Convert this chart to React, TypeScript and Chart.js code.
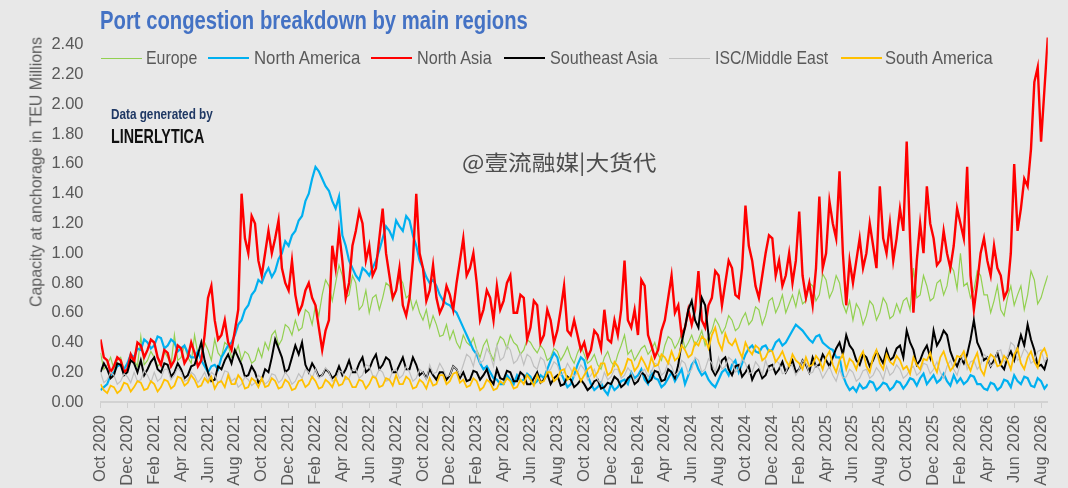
import React, { useEffect, useLayoutEffect, useRef } from "react";
import { Chart, registerables } from "chart.js";

Chart.register(...registerables);

// ---------- data (quarter-month steps starting 1 Oct 2020) ----------
const STEP_MONTHS = 0.25;

const TICK_LABELS = [
  "Oct 2020", "Dec 2020", "Feb 2021", "Apr 2021", "Jun 2021", "Aug 2021",
  "Oct 2021", "Dec 2021", "Feb 2022", "Apr 2022", "Jun 2022", "Aug 2022",
  "Oct 2022", "Dec 2022", "Feb 2023", "Apr 2023", "Jun 2023", "Aug 2023",
  "Oct 2023", "Dec 2023", "Feb 2024", "Apr 2024", "Jun 2024", "Aug 2024",
  "Oct 2024", "Dec 2024", "Feb 2025", "Apr 2025", "Jun 2025", "Aug 2025",
  "Oct 2025", "Dec 2025", "Feb 2026", "Apr 2026", "Jun 2026", "Aug 2026",
];

const Y_TICKS = [0, 0.2, 0.4, 0.6, 0.8, 1.0, 1.2, 1.4, 1.6, 1.8, 2.0, 2.2, 2.4];

const EUROPE = [
  0.33, 0.22, 0.25, 0.30, 0.22, 0.28, 0.30, 0.22, 0.25, 0.32, 0.28, 0.24, 0.44, 0.25, 0.28, 0.34,
  0.30, 0.24, 0.26, 0.34, 0.30, 0.25, 0.45, 0.28, 0.30, 0.38, 0.30, 0.26, 0.45, 0.32, 0.30, 0.40,
  0.35, 0.28, 0.42, 0.33, 0.30, 0.40, 0.38, 0.30, 0.32, 0.38, 0.28, 0.34, 0.32, 0.26, 0.28, 0.36,
  0.30, 0.40, 0.35, 0.45, 0.48, 0.38, 0.42, 0.52, 0.50, 0.45, 0.55, 0.48, 0.50, 0.62, 0.60, 0.52,
  0.65, 0.58, 0.72, 0.82, 0.78, 0.68, 0.80, 0.92, 0.85, 0.70, 0.72, 0.85, 0.80, 0.62, 0.65, 0.75,
  0.60, 0.70, 0.72, 0.62, 0.70, 0.80, 0.78, 0.68, 0.75, 0.84, 0.80, 0.70, 0.72, 0.62, 0.68, 0.60,
  0.55, 0.62, 0.50, 0.58, 0.52, 0.44, 0.45, 0.52, 0.42, 0.48, 0.40, 0.36, 0.45, 0.40, 0.38, 0.43,
  0.35, 0.30, 0.38, 0.42, 0.33, 0.28, 0.38, 0.44, 0.42, 0.36, 0.45, 0.40, 0.38, 0.32, 0.35, 0.42,
  0.40, 0.36, 0.33, 0.38, 0.35, 0.28, 0.30, 0.36, 0.34, 0.28, 0.32, 0.37, 0.30, 0.26, 0.33, 0.38,
  0.32, 0.26, 0.28, 0.32, 0.25, 0.22, 0.30, 0.34, 0.27, 0.24, 0.32, 0.38, 0.45, 0.32, 0.35, 0.28,
  0.32, 0.36, 0.38, 0.32, 0.35, 0.40, 0.32, 0.28, 0.38, 0.44, 0.42, 0.36, 0.40, 0.46, 0.36, 0.40,
  0.45, 0.38, 0.42, 0.48, 0.38, 0.44, 0.48, 0.56, 0.52, 0.46, 0.50, 0.58, 0.55, 0.48, 0.50, 0.56,
  0.60, 0.52, 0.55, 0.64, 0.62, 0.52, 0.58, 0.68, 0.70, 0.60, 0.65, 0.72, 0.60, 0.66, 0.72, 0.64,
  0.75, 0.66, 0.68, 0.80, 0.78, 0.68, 0.72, 0.86, 0.82, 0.70, 0.75, 0.85, 0.80, 0.66, 0.60, 0.68,
  0.55, 0.66, 0.62, 0.52, 0.58, 0.68, 0.65, 0.55, 0.60, 0.70, 0.66, 0.56, 0.58, 0.66, 0.60, 0.68,
  0.70, 0.62, 0.90, 0.70, 0.72, 0.85, 0.78, 0.68, 0.70, 0.80, 0.82, 0.72, 0.78, 0.92, 0.88, 0.76,
  1.00, 0.78, 0.80, 0.70, 0.75, 0.88, 0.85, 0.72, 0.72, 0.60, 0.68, 0.78, 0.62, 0.58, 0.70, 0.78,
  0.65, 0.72, 0.78, 0.62, 0.72, 0.88, 0.82, 0.66, 0.70, 0.78, 0.85,
];

const NORTH_AMERICA = [
  0.08, 0.10, 0.12, 0.18, 0.20, 0.24, 0.25, 0.22, 0.26, 0.32, 0.30, 0.36, 0.35, 0.42, 0.40, 0.36,
  0.38, 0.44, 0.43, 0.36, 0.38, 0.42, 0.40, 0.34, 0.36, 0.38, 0.33, 0.30, 0.30, 0.34, 0.28, 0.24,
  0.20, 0.24, 0.25, 0.22, 0.30, 0.34, 0.38, 0.40, 0.45, 0.52, 0.55, 0.62, 0.65, 0.72, 0.75, 0.82,
  0.80, 0.86, 0.90, 0.84, 0.88, 0.96, 1.00, 1.08, 1.05, 1.12, 1.15, 1.22, 1.25, 1.35, 1.40, 1.50,
  1.58, 1.55, 1.50, 1.45, 1.42, 1.35, 1.30, 1.38, 1.12, 1.05, 0.95, 0.90, 0.85, 0.82, 0.90, 0.88,
  0.85, 0.90, 0.95, 1.02, 1.10, 1.18, 1.15, 1.10, 1.22, 1.18, 1.15, 1.25, 1.22, 1.12, 1.05, 0.95,
  0.90, 0.84, 0.80, 0.82, 0.78, 0.72, 0.68, 0.66, 0.65, 0.62, 0.60, 0.55, 0.50, 0.45, 0.40, 0.35,
  0.32, 0.26, 0.22, 0.24, 0.20, 0.16, 0.15, 0.12, 0.12, 0.18, 0.15, 0.12, 0.18, 0.14, 0.15, 0.19,
  0.17, 0.12, 0.14, 0.18, 0.16, 0.22, 0.28, 0.33, 0.30, 0.20, 0.15, 0.10, 0.12, 0.18, 0.25, 0.30,
  0.28, 0.18, 0.12, 0.08, 0.10, 0.13, 0.08, 0.05, 0.12, 0.08, 0.10, 0.14, 0.15, 0.12, 0.20, 0.16,
  0.18, 0.22, 0.15, 0.12, 0.20, 0.16, 0.15, 0.10, 0.12, 0.16, 0.20, 0.14, 0.18, 0.22, 0.12, 0.18,
  0.25, 0.28, 0.22, 0.18, 0.20, 0.15, 0.12, 0.10, 0.15, 0.20, 0.22, 0.18, 0.25, 0.28, 0.20, 0.26,
  0.32, 0.36, 0.38, 0.34, 0.33, 0.37, 0.38, 0.34, 0.35, 0.40, 0.42, 0.38, 0.40, 0.44, 0.48, 0.52,
  0.50, 0.48, 0.45, 0.42, 0.40, 0.44, 0.45, 0.40, 0.38, 0.36, 0.35, 0.30, 0.30, 0.18, 0.12, 0.08,
  0.10, 0.07, 0.12, 0.09, 0.10, 0.14, 0.13, 0.08, 0.10, 0.13, 0.12, 0.08, 0.10, 0.14, 0.13, 0.09,
  0.12, 0.16, 0.15, 0.11, 0.16, 0.19, 0.12, 0.15, 0.18, 0.13, 0.15, 0.19, 0.14, 0.11, 0.18, 0.13,
  0.16, 0.12, 0.14, 0.18, 0.17, 0.12, 0.12, 0.09, 0.08, 0.13, 0.12, 0.08, 0.10, 0.15, 0.14, 0.10,
  0.18, 0.14, 0.12, 0.17, 0.16, 0.11, 0.10, 0.16, 0.14, 0.09, 0.12,
];

const NORTH_ASIA = [
  0.42, 0.30, 0.28, 0.20, 0.24, 0.30, 0.28, 0.20, 0.22, 0.32, 0.27, 0.40, 0.38, 0.30, 0.35, 0.42,
  0.40, 0.30, 0.25, 0.35, 0.33, 0.24, 0.28, 0.38, 0.36, 0.26, 0.30, 0.40, 0.33, 0.24, 0.28, 0.45,
  0.70, 0.78, 0.55, 0.42, 0.45, 0.55, 0.40, 0.35, 0.48, 0.62, 1.40, 1.10, 1.00, 1.25, 1.20, 0.95,
  0.85, 1.00, 1.15, 1.00, 1.10, 1.22, 0.90, 0.80, 0.75, 0.95, 0.72, 0.60, 0.65, 0.75, 0.80, 0.70,
  0.65, 0.50, 0.35, 0.48, 0.55, 1.05, 0.90, 1.15, 0.95, 0.70, 0.80, 1.05, 1.15, 1.28, 1.20, 0.95,
  1.05, 0.85, 0.90, 1.10, 1.30, 1.00, 0.85, 0.70, 0.75, 0.90, 0.65, 0.58, 0.70, 0.95, 1.40, 1.00,
  0.90, 0.68, 0.75, 0.92, 0.70, 0.60, 0.65, 0.78, 0.72, 0.62, 0.80, 0.95, 1.10, 0.85, 0.90, 1.00,
  0.80, 0.55, 0.62, 0.75, 0.70, 0.55, 0.78, 0.62, 0.68, 0.80, 0.85, 0.60, 0.60, 0.72, 0.70, 0.42,
  0.50, 0.68, 0.65, 0.40, 0.45, 0.62, 0.55, 0.40, 0.48, 0.62, 0.78, 0.48, 0.45, 0.55, 0.45, 0.35,
  0.40, 0.30, 0.35, 0.48, 0.45, 0.36, 0.62, 0.42, 0.40, 0.55, 0.45, 0.62, 0.95, 0.55, 0.50, 0.62,
  0.45, 0.82, 0.78, 0.45, 0.38, 0.30, 0.35, 0.48, 0.55, 0.70, 0.85, 0.60, 0.65, 0.45, 0.50, 0.62,
  0.52, 0.62, 0.88, 0.55, 0.50, 0.65, 0.70, 0.88, 0.85, 0.65, 0.80, 0.95, 0.90, 0.72, 0.70, 0.90,
  1.32, 1.05, 0.95, 0.78, 0.70, 0.85, 1.00, 1.12, 1.10, 0.85, 0.95, 0.78, 0.85, 1.00, 0.80, 0.95,
  1.28, 0.85, 0.70, 0.80, 0.65, 0.90, 1.38, 0.90, 1.00, 1.35, 1.20, 1.10, 1.55, 1.00, 0.65, 0.95,
  0.80, 0.95, 1.10, 0.90, 1.00, 1.20, 1.05, 0.90, 1.45, 1.10, 1.00, 1.20, 0.95, 1.10, 1.30, 1.15,
  1.75, 1.10, 0.60, 0.95, 1.20, 1.00, 1.45, 1.20, 1.10, 0.92, 0.95, 1.15, 1.00, 0.90, 1.05, 1.30,
  1.20, 1.10, 1.58, 0.85, 0.62, 0.80, 1.00, 1.10, 0.95, 0.85, 1.05, 0.90, 0.85, 0.70, 0.75, 1.00,
  1.60, 1.15, 1.30, 1.50, 1.45, 1.70, 2.15, 2.25, 1.75, 2.10, 2.45,
];

const SOUTHEAST_ASIA = [
  0.20, 0.26, 0.22, 0.16, 0.18, 0.26, 0.25, 0.18, 0.20, 0.28, 0.26, 0.20, 0.28, 0.18, 0.22, 0.27,
  0.30, 0.22, 0.20, 0.26, 0.25, 0.17, 0.20, 0.26, 0.22, 0.16, 0.18, 0.24, 0.25, 0.32, 0.40, 0.28,
  0.20, 0.14, 0.15, 0.24, 0.22, 0.28, 0.32, 0.26, 0.35, 0.30, 0.25, 0.17, 0.18, 0.24, 0.20, 0.13,
  0.15, 0.22, 0.20, 0.30, 0.42, 0.36, 0.30, 0.20, 0.22, 0.30, 0.38, 0.32, 0.40, 0.25, 0.20, 0.26,
  0.22, 0.17, 0.18, 0.22, 0.20, 0.16, 0.18, 0.24, 0.18, 0.22, 0.28, 0.20, 0.20, 0.26, 0.30, 0.20,
  0.22, 0.28, 0.32, 0.22, 0.25, 0.30, 0.28, 0.20, 0.20, 0.25, 0.30, 0.22, 0.22, 0.30, 0.25, 0.18,
  0.20, 0.16, 0.22, 0.18, 0.15, 0.20, 0.20, 0.15, 0.18, 0.24, 0.22, 0.16, 0.20, 0.14, 0.15, 0.21,
  0.20, 0.15, 0.18, 0.22, 0.15, 0.12, 0.22, 0.16, 0.15, 0.21, 0.20, 0.14, 0.14, 0.20, 0.18, 0.12,
  0.12, 0.16, 0.20, 0.13, 0.15, 0.19, 0.12, 0.16, 0.18, 0.11, 0.12, 0.17, 0.15, 0.10, 0.12, 0.15,
  0.12, 0.08, 0.10, 0.14, 0.15, 0.09, 0.10, 0.13, 0.12, 0.17, 0.15, 0.10, 0.12, 0.16, 0.18, 0.12,
  0.14, 0.20, 0.18, 0.13, 0.15, 0.21, 0.20, 0.14, 0.15, 0.22, 0.20, 0.16, 0.25, 0.40, 0.50, 0.62,
  0.68, 0.55, 0.50, 0.70, 0.65, 0.45, 0.22, 0.18, 0.22, 0.28, 0.30, 0.22, 0.18, 0.24, 0.25, 0.17,
  0.20, 0.24, 0.15, 0.20, 0.22, 0.16, 0.18, 0.24, 0.25, 0.19, 0.22, 0.27, 0.20, 0.24, 0.28, 0.20,
  0.22, 0.28, 0.25, 0.20, 0.30, 0.24, 0.25, 0.32, 0.28, 0.24, 0.30, 0.36, 0.40, 0.32, 0.45, 0.38,
  0.35, 0.28, 0.25, 0.32, 0.30, 0.24, 0.28, 0.34, 0.30, 0.26, 0.35, 0.28, 0.30, 0.36, 0.38, 0.30,
  0.48, 0.40, 0.35, 0.25, 0.28, 0.34, 0.38, 0.30, 0.48, 0.38, 0.42, 0.48, 0.45, 0.34, 0.28, 0.24,
  0.30, 0.26, 0.32, 0.42, 0.55, 0.40, 0.35, 0.28, 0.30, 0.24, 0.28, 0.33, 0.25, 0.22, 0.30, 0.34,
  0.28, 0.36, 0.45, 0.38, 0.52, 0.42, 0.35, 0.24, 0.25, 0.22, 0.30,
];

const ISC_MIDDLE_EAST = [
  0.20, 0.13, 0.15, 0.20, 0.18, 0.12, 0.14, 0.19, 0.17, 0.13, 0.20, 0.14, 0.15, 0.21, 0.18, 0.13,
  0.20, 0.14, 0.16, 0.22, 0.22, 0.15, 0.18, 0.23, 0.20, 0.14, 0.15, 0.20, 0.18, 0.13, 0.16, 0.20,
  0.14, 0.20, 0.18, 0.13, 0.15, 0.21, 0.20, 0.14, 0.16, 0.10, 0.12, 0.17, 0.15, 0.11, 0.13, 0.18,
  0.16, 0.12, 0.14, 0.19, 0.18, 0.13, 0.15, 0.20, 0.17, 0.12, 0.14, 0.19, 0.16, 0.22, 0.20, 0.16,
  0.22, 0.16, 0.18, 0.23, 0.20, 0.14, 0.15, 0.21, 0.20, 0.15, 0.16, 0.22, 0.22, 0.16, 0.18, 0.25,
  0.24, 0.18, 0.17, 0.22, 0.20, 0.14, 0.15, 0.21, 0.22, 0.16, 0.18, 0.24, 0.20, 0.14, 0.16, 0.22,
  0.20, 0.15, 0.25, 0.19, 0.20, 0.26, 0.22, 0.17, 0.18, 0.24, 0.22, 0.18, 0.25, 0.32, 0.30, 0.24,
  0.35, 0.26, 0.28, 0.36, 0.32, 0.24, 0.38, 0.28, 0.30, 0.38, 0.35, 0.26, 0.28, 0.33, 0.25, 0.32,
  0.30, 0.24, 0.22, 0.30, 0.28, 0.20, 0.22, 0.27, 0.25, 0.18, 0.20, 0.26, 0.22, 0.17, 0.20, 0.25,
  0.22, 0.15, 0.18, 0.22, 0.15, 0.12, 0.20, 0.15, 0.17, 0.22, 0.22, 0.16, 0.18, 0.23, 0.20, 0.14,
  0.16, 0.20, 0.22, 0.17, 0.20, 0.26, 0.25, 0.18, 0.20, 0.27, 0.24, 0.18, 0.20, 0.28, 0.26, 0.19,
  0.22, 0.30, 0.28, 0.20, 0.22, 0.29, 0.26, 0.20, 0.30, 0.22, 0.24, 0.30, 0.28, 0.20, 0.22, 0.29,
  0.26, 0.19, 0.20, 0.27, 0.24, 0.18, 0.28, 0.21, 0.22, 0.28, 0.26, 0.19, 0.20, 0.26, 0.24, 0.18,
  0.22, 0.28, 0.26, 0.19, 0.20, 0.25, 0.22, 0.16, 0.20, 0.24, 0.18, 0.14, 0.22, 0.16, 0.17, 0.22,
  0.20, 0.14, 0.16, 0.21, 0.22, 0.16, 0.18, 0.23, 0.20, 0.15, 0.24, 0.18, 0.20, 0.25, 0.22, 0.16,
  0.18, 0.22, 0.24, 0.18, 0.20, 0.26, 0.25, 0.19, 0.22, 0.27, 0.20, 0.16, 0.24, 0.28, 0.22, 0.18,
  0.26, 0.32, 0.22, 0.27, 0.28, 0.22, 0.25, 0.32, 0.30, 0.24, 0.26, 0.34, 0.35, 0.27, 0.30, 0.40,
  0.38, 0.28, 0.30, 0.36, 0.33, 0.26, 0.28, 0.34, 0.35, 0.27, 0.30,
];

const SOUTH_AMERICA = [
  0.12, 0.08, 0.06, 0.11, 0.10, 0.06, 0.08, 0.13, 0.12, 0.07, 0.10, 0.14, 0.13, 0.08, 0.09, 0.14,
  0.12, 0.07, 0.10, 0.15, 0.14, 0.09, 0.11, 0.17, 0.16, 0.11, 0.13, 0.18, 0.15, 0.10, 0.11, 0.16,
  0.13, 0.17, 0.09, 0.13, 0.14, 0.10, 0.18, 0.12, 0.12, 0.18, 0.15, 0.09, 0.10, 0.16, 0.14, 0.10,
  0.16, 0.10, 0.11, 0.16, 0.14, 0.09, 0.10, 0.15, 0.13, 0.08, 0.09, 0.14, 0.15, 0.10, 0.12, 0.17,
  0.14, 0.09, 0.10, 0.15, 0.13, 0.10, 0.16, 0.11, 0.12, 0.17, 0.15, 0.10, 0.10, 0.15, 0.14, 0.09,
  0.12, 0.17, 0.16, 0.10, 0.11, 0.16, 0.15, 0.11, 0.18, 0.12, 0.12, 0.17, 0.15, 0.09, 0.10, 0.15,
  0.13, 0.09, 0.16, 0.11, 0.12, 0.18, 0.18, 0.12, 0.14, 0.19, 0.20, 0.13, 0.15, 0.10, 0.11, 0.16,
  0.14, 0.08, 0.10, 0.15, 0.13, 0.08, 0.09, 0.14, 0.12, 0.16, 0.14, 0.09, 0.10, 0.15, 0.12, 0.18,
  0.15, 0.11, 0.18, 0.13, 0.14, 0.20, 0.20, 0.14, 0.16, 0.21, 0.22, 0.15, 0.17, 0.23, 0.20, 0.14,
  0.18, 0.22, 0.24, 0.17, 0.20, 0.26, 0.26, 0.18, 0.20, 0.27, 0.24, 0.18, 0.22, 0.29, 0.28, 0.21,
  0.24, 0.30, 0.26, 0.21, 0.30, 0.24, 0.25, 0.32, 0.30, 0.26, 0.34, 0.28, 0.30, 0.38, 0.35, 0.30,
  0.32, 0.40, 0.38, 0.44, 0.42, 0.36, 0.45, 0.50, 0.40, 0.35, 0.46, 0.40, 0.38, 0.42, 0.35, 0.30,
  0.40, 0.35, 0.32, 0.38, 0.36, 0.28, 0.30, 0.35, 0.34, 0.27, 0.30, 0.34, 0.28, 0.24, 0.32, 0.28,
  0.26, 0.22, 0.30, 0.24, 0.25, 0.31, 0.28, 0.22, 0.30, 0.34, 0.25, 0.20, 0.28, 0.32, 0.22, 0.29,
  0.27, 0.22, 0.30, 0.34, 0.24, 0.20, 0.30, 0.35, 0.26, 0.22, 0.32, 0.27, 0.25, 0.31, 0.28, 0.22,
  0.24, 0.19, 0.30, 0.25, 0.22, 0.29, 0.28, 0.33, 0.25, 0.20, 0.30, 0.34, 0.27, 0.21, 0.24, 0.31,
  0.30, 0.34, 0.26, 0.21, 0.28, 0.33, 0.22, 0.18, 0.27, 0.32, 0.30, 0.24, 0.25, 0.31, 0.28, 0.22,
  0.32, 0.36, 0.26, 0.22, 0.30, 0.34, 0.27, 0.23, 0.33, 0.36, 0.30,
];

const SERIES_NAMES = ["Europe", "North America", "North Asia", "Southeast Asia", "ISC/Middle East", "South America"];
const SERIES_VALUES = [EUROPE, NORTH_AMERICA, NORTH_ASIA, SOUTHEAST_ASIA, ISC_MIDDLE_EAST, SOUTH_AMERICA];

// ---------- styling / layout ----------
const COLORS = ["#92D050", "#00B0F0", "#FF0000", "#000000", "#BFBFBF", "#FFC000"];
const WIDTHS = [1.2, 2.2, 2.4, 2.0, 1.2, 1.8];
const LEGEND_LINE_LEFT = [101, 208, 371, 504, 669, 841];
const LEGEND_TEXT_LEFT = [146, 254, 417, 550, 715, 885];
const LEGEND_TEXT_WIDTH = [51, 106, 75, 108, 113, 108];
const FONT = "'Liberation Sans', Arial, sans-serif";
const TEXT = "#595959";
const BG = "#e8e8e8";

type FitProps = {
  text: string;
  left: number;
  cy: number;
  width: number;
  size: number;
  weight?: number;
  color: string;
  family?: string;
  vertical?: boolean;
};

function FitText({ text, left, cy, width, size, weight = 400, color, family = FONT, vertical = false }: FitProps) {
  const ref = useRef<HTMLSpanElement | null>(null);
  useLayoutEffect(() => {
    const el = ref.current;
    if (!el) return;
    const w = el.offsetWidth;
    const s = w > 0 ? width / w : 1;
    el.style.transform = vertical
      ? `translate(-50%, -50%) rotate(-90deg) scaleX(${s})`
      : `scaleX(${s})`;
  }, [width, vertical]);
  const lh = Math.round(size * 1.25);
  if (vertical) {
    return (
      <div style={{ position: "absolute", left, top: cy, width: 0, height: 0 }}>
        <span
          ref={ref}
          style={{ position: "absolute", left: 0, top: 0, fontSize: size, fontWeight: weight, color, fontFamily: family, whiteSpace: "nowrap", lineHeight: `${lh}px`, transform: "translate(-50%, -50%) rotate(-90deg)" }}
        >
          {text}
        </span>
      </div>
    );
  }
  return (
    <span
      ref={ref}
      style={{ position: "absolute", left, top: cy - lh / 2, fontSize: size, fontWeight: weight, color, fontFamily: family, whiteSpace: "nowrap", lineHeight: `${lh}px`, transformOrigin: "0 50%" }}
    >
      {text}
    </span>
  );
}

export default function App() {
  const ref = useRef<HTMLCanvasElement | null>(null);

  useEffect(() => {
    if (!ref.current) return;
    const datasets = SERIES_VALUES.map((vals, si) => ({
      label: SERIES_NAMES[si],
      data: vals.map((v, i) => ({ x: i * STEP_MONTHS, y: v })),
      borderColor: COLORS[si],
      backgroundColor: COLORS[si],
      borderWidth: WIDTHS[si],
      pointRadius: 0,
      tension: 0,
      fill: false,
      order: SERIES_VALUES.length - 1 - si,
    }));
    const chart = new Chart(ref.current, {
      type: "line",
      data: { datasets },
      options: {
        responsive: false,
        animation: false,
        events: [],
        layout: { padding: { top: 33, right: 19, bottom: 0, left: 0 } },
        plugins: { legend: { display: false }, tooltip: { enabled: false }, title: { display: false } },
        scales: {
          x: {
            type: "linear",
            min: 0,
            max: (SERIES_VALUES[0].length - 1) * STEP_MONTHS,
            afterBuildTicks: (s: any) => {
              s.ticks = TICK_LABELS.map((_, i) => ({ value: i * 2 }));
            },
            afterFit: (s: any) => {
              s.height = 86;
            },
            ticks: {
              autoSkip: false,
              maxRotation: 90,
              minRotation: 90,
              padding: 7,
              color: TEXT,
              font: { family: FONT, size: 16.5 },
              callback: (_v: any, i: number) => TICK_LABELS[i] ?? "",
            },
            grid: { drawOnChartArea: false, drawTicks: true, tickLength: 6, color: "#cfcfcf" },
            border: { display: true, color: "#d2d2d2", width: 2 },
          },
          y: {
            min: 0,
            max: 2.48,
            afterBuildTicks: (s: any) => {
              s.ticks = Y_TICKS.map((v) => ({ value: v }));
            },
            afterFit: (s: any) => {
              s.width = 100.5;
            },
            ticks: {
              padding: 17,
              color: TEXT,
              font: { family: FONT, size: 16.5 },
              callback: (v: any) => Number(v).toFixed(2),
            },
            grid: { display: false, drawTicks: false },
            border: { display: false },
          },
        },
      },
    });
    return () => chart.destroy();
  }, []);

  return (
    <div style={{ position: "fixed", left: 0, top: 0, width: 1068, height: 488, background: BG, overflow: "hidden", fontFamily: FONT }}>
      <canvas ref={ref} width={1068} height={488} style={{ position: "absolute", left: 0, top: 0, width: 1068, height: 488 }} />
      <FitText text="Port congestion breakdown by main regions" left={100} cy={20} width={428} size={25} weight={700} color="#4472C4" />
      {SERIES_NAMES.map((name, i) => (
        <React.Fragment key={name}>
          <div style={{ position: "absolute", left: LEGEND_LINE_LEFT[i], top: 58 - Math.max(1, Math.round(WIDTHS[i])) / 2, width: 41, height: Math.max(1, Math.round(WIDTHS[i])), background: COLORS[i] }} />
          <FitText text={name} left={LEGEND_TEXT_LEFT[i]} cy={58} width={LEGEND_TEXT_WIDTH[i]} size={19} color={TEXT} />
        </React.Fragment>
      ))}
      <FitText text="Data generated by" left={111} cy={114} width={102} size={14.5} weight={700} color="#1F3864" />
      <FitText text="LINERLYTICA" left={111} cy={136} width={93} size={20} weight={700} color="#111111" />
      <FitText text="@壹流融媒|大货代" left={462} cy={161} width={195} size={21} color="#4d4d4d" family="'Noto Sans CJK SC', 'Noto Sans', sans-serif" />
      <FitText text="Capacity at anchorage in TEU Millions" left={36} cy={172} width={270} size={17} color={TEXT} vertical />
    </div>
  );
}
